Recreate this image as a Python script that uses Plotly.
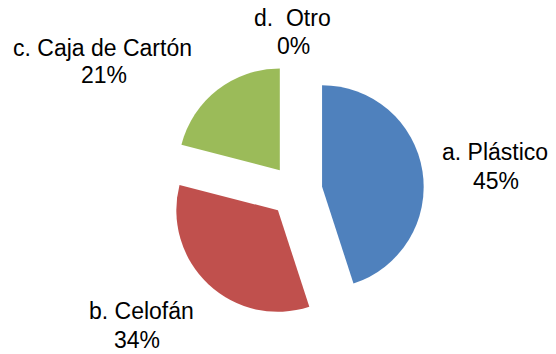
import plotly.graph_objects as go

# Survey shares by packaging type
categories = ["a. Plástico", "b. Celofán", "c. Caja de Cartón", "d.\u00a0 Otro"]
values = [45, 34, 21, 0]
colors = ["#4F81BD", "#C0504D", "#9BBB59", "#8064A2"]

W, H = 556, 354

# label anchor points in pixels: (name line centre, percent line centre)
label_pos = [
    ((495, 152), (496, 181)),
    ((141, 311), (137, 340)),
    ((103, 48), (104, 75)),
    ((292, 18), (293, 46)),
]

total = sum(values)

# pie centred near (296, 191) px
cx, cy, half = 296, 191, 128

fig = go.Figure(
    go.Pie(
        labels=categories,
        values=values,
        sort=False,
        direction="clockwise",
        rotation=0,
        pull=[0.26] * len(values),
        marker=dict(colors=colors, line=dict(width=0)),
        textinfo="none",
        hoverinfo="label+percent",
        domain=dict(x=[(cx - half) / W, (cx + half) / W],
                    y=[1 - (cy + half) / H, 1 - (cy - half) / H]),
        showlegend=False,
    )
)

font = dict(family="Liberation Sans, Arial, sans-serif", size=23, color="#000000")
for cat, val, ((nx, ny), (px, py)) in zip(categories, values, label_pos):
    pct = round(100 * val / total)
    fig.add_annotation(x=nx / W, y=1 - ny / H, xref="paper", yref="paper",
                       text=cat, showarrow=False, xanchor="center", yanchor="middle", font=font)
    fig.add_annotation(x=px / W, y=1 - py / H, xref="paper", yref="paper",
                       text=f"{pct}%", showarrow=False, xanchor="center", yanchor="middle", font=font)

fig.update_layout(
    width=W,
    height=H,
    margin=dict(l=0, r=0, t=0, b=0),
    paper_bgcolor="white",
    plot_bgcolor="white",
)

fig.write_html("out.html")
